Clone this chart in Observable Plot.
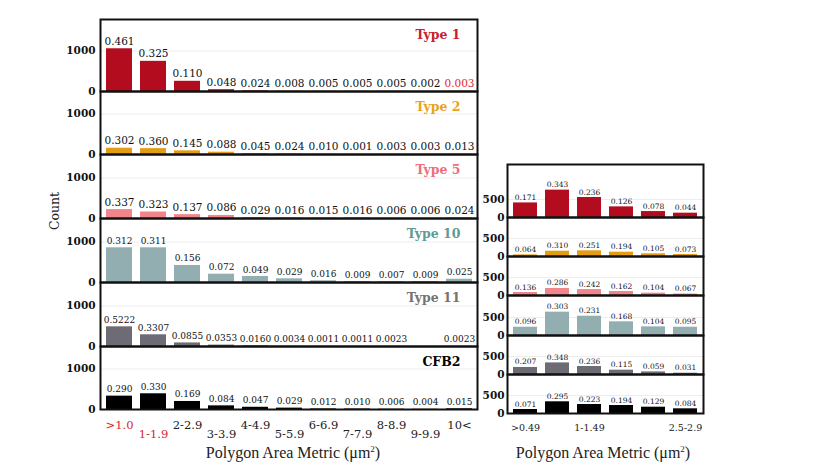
<!DOCTYPE html>
<html>
<head>
<meta charset="utf-8">
<script src="https://cdn.jsdelivr.net/npm/d3@7"></script>
<script src="https://cdn.jsdelivr.net/npm/@observablehq/plot@0.6"></script>
<style>
  body { margin: 0; background: #fff; }
  #root { position: relative; width: 830px; height: 467px; overflow: hidden; background: #fff;
          font-family: "DejaVu Serif", serif; }
  .pl { position: absolute; }
  .pl svg { display: block; max-width: none; background: transparent; overflow: visible; }
  .axtitle { position: absolute; font-family: "Liberation Serif", serif; font-size: 16px; color: #222;
             white-space: nowrap; transform: translate(-50%, -50%); }
  .count { position: absolute; font-family: "DejaVu Serif", serif; font-size: 12.5px;
           color: #222; white-space: nowrap; transform: translate(-50%, -50%) rotate(-90deg); }
</style>
</head>
<body>
<div id="root"></div>
<script>
// ---------- data ----------
const panelNames = ["Type 1", "Type 2", "Type 5", "Type 10", "Type 11", "CFB2"];
const barColors = ["#b20c1e", "#e29d12", "#f0868c", "#93aeb1", "#6d6c74", "#000000"];
const titleColors = ["#c8202c", "#e9a31c", "#ef6e79", "#5e9b95", "#737373", "#000000"];

const leftCats = [">1.0", "1-1.9", "2-2.9", "3-3.9", "4-4.9", "5-5.9", "6-6.9", "7-7.9", "8-8.9", "9-9.9", "10<"];
const rightCats = [">0.49", "0.5-0.99", "1-1.49", "1.5-1.99", "2-2.49", "2.5-2.9"];
const rightTickLabels = [">0.49", "1-1.49", "2.5-2.9"];
const leftTicks = [0, 1000];
const rightTicks = [0, 500];

// left panel counts and proportion labels
const leftType1 = [1055, 745, 252, 45, 15, 5, 3, 3, 3, 1, 2];
const leftType1Labels = ["0.461", "0.325", "0.110", "0.048", "0.024", "0.008", "0.005", "0.005", "0.005", "0.002", "0.003"];
const leftType2 = [155, 145, 90, 57, 20, 12, 5, 1, 2, 2, 6];
const leftType2Labels = ["0.302", "0.360", "0.145", "0.088", "0.045", "0.024", "0.010", "0.001", "0.003", "0.003", "0.013"];
const leftType5 = [220, 160, 95, 75, 20, 12, 10, 12, 4, 4, 16];
const leftType5Labels = ["0.337", "0.323", "0.137", "0.086", "0.029", "0.016", "0.015", "0.016", "0.006", "0.006", "0.024"];
const leftType10 = [857, 857, 420, 205, 148, 91, 43, 24, 19, 24, 81];
const leftType10Labels = ["0.312", "0.311", "0.156", "0.072", "0.049", "0.029", "0.016", "0.009", "0.007", "0.009", "0.025"];
const leftType11 = [486, 289, 88, 35, 16, 3, 1, 1, 2, 0, 2];
const leftType11Labels = ["0.5222", "0.3307", "0.0855", "0.0353", "0.0160", "0.0034", "0.0011", "0.0011", "0.0023", "", "0.0023"];
const leftCFB2 = [330, 388, 198, 90, 55, 34, 14, 12, 7, 5, 17];
const leftCFB2Labels = ["0.290", "0.330", "0.169", "0.084", "0.047", "0.029", "0.012", "0.010", "0.006", "0.004", "0.015"];

// right panel counts and proportion labels
const rightType1 = [405, 760, 555, 295, 165, 120];
const rightType1Labels = ["0.171", "0.343", "0.236", "0.126", "0.078", "0.044"];
const rightType2 = [45, 147, 158, 120, 75, 55];
const rightType2Labels = ["0.064", "0.310", "0.251", "0.194", "0.105", "0.073"];
const rightType5 = [83, 195, 165, 111, 65, 40];
const rightType5Labels = ["0.136", "0.286", "0.242", "0.162", "0.104", "0.067"];
const rightType10 = [230, 648, 536, 380, 240, 230];
const rightType10Labels = ["0.096", "0.303", "0.231", "0.168", "0.104", "0.095"];
const rightType11 = [195, 322, 222, 120, 72, 36];
const rightType11Labels = ["0.207", "0.348", "0.236", "0.115", "0.059", "0.031"];
const rightCFB2 = [111, 325, 250, 222, 175, 130];
const rightCFB2Labels = ["0.071", "0.295", "0.223", "0.194", "0.129", "0.084"];

const leftValues = [leftType1, leftType2, leftType5, leftType10, leftType11, leftCFB2];
const leftLabels = [leftType1Labels, leftType2Labels, leftType5Labels, leftType10Labels, leftType11Labels, leftCFB2Labels];
const rightValues = [rightType1, rightType2, rightType5, rightType10, rightType11, rightCFB2];
const rightLabels = [rightType1Labels, rightType2Labels, rightType5Labels, rightType10Labels, rightType11Labels, rightCFB2Labels];

// ---------- layout ----------
const FONT = '"DejaVu Serif", serif';
const root = document.getElementById("root");

const LEFT = {x0: 100, x1: 477, edges: [19, 91, 154, 218, 282, 346, 409], px1000: 40.5, ml: 40,
  pi: 0.25, po: 0.12, ticks: leftTicks, tickPad: 5, tickSize: 10.5, labelSizes: [10.5, 10.5, 10.5, 9, 9, 9], titles: true};
const RIGHT = {x0: 507, x1: 703, edges: [164, 217, 256, 295, 335, 374, 413], px1000: 36, ml: 36,
  pi: 0.26, po: 0.14, ticks: rightTicks, tickPad: 3, tickSize: 10.5, labelSizes: [7.5, 7.5, 7.5, 7.5, 7.5, 7.5], titles: false};

function place(el, left, top) {
  const d = document.createElement("div");
  d.className = "pl";
  d.style.left = left + "px";
  d.style.top = top + "px";
  d.appendChild(el);
  root.appendChild(d);
}

function drawPanel(side, i, cats, values, labels, isLeft) {
  const top = side.edges[i], bottom = side.edges[i + 1];
  const h = bottom - top;
  const last = i === 5;
  const mb = last ? 36 : 1;
  const data = cats.map((c, k) => ({cat: c, value: values[k], label: labels[k], k}));
  const marks = [
    Plot.ruleY(side.ticks.slice(1), {stroke: "#ededed", strokeWidth: 1}),
    Plot.axisY(side.ticks, {tickSize: 0, tickPadding: side.tickPad, fontSize: side.tickSize, fontWeight: "bold",
      fill: "#111", label: null, tickFormat: d => String(d)}),
    Plot.barY(data, {x: "cat", y: "value", fill: barColors[i]}),
    Plot.text(data, {x: "cat", y: "value", text: "label", lineAnchor: "bottom", dy: isLeft ? -4 : -3,
      fontSize: side.labelSizes[i],
      fill: d => (isLeft && i === 0 && d.k === 10) ? "#e0262e" : "#111"}),
    Plot.frame({stroke: "#111", strokeWidth: 2})
  ];
  if (side.titles) {
    marks.push(Plot.text([panelNames[i]], {text: d => d, frameAnchor: "top-right", textAnchor: "end",
      lineAnchor: "middle", dx: -17, dy: 15, fontSize: 12.5, fontWeight: "bold", fill: titleColors[i]}));
  }
  if (last && isLeft) {
    marks.push(Plot.text(data, {x: "cat", text: "cat", filter: d => d.k % 2 === 0, frameAnchor: "bottom",
      lineAnchor: "middle", dy: 16, fontSize: 11.5, fill: d => d.k < 2 ? "#d8262c" : "#222"}));
    marks.push(Plot.text(data, {x: "cat", text: "cat", filter: d => d.k % 2 === 1, frameAnchor: "bottom",
      lineAnchor: "middle", dy: 25, fontSize: 11.5, fill: d => d.k < 2 ? "#d8262c" : "#222"}));
  }
  if (last && !isLeft) {
    marks.push(Plot.text(data, {x: "cat", text: "cat", filter: d => rightTickLabels.includes(d.cat),
      frameAnchor: "bottom", lineAnchor: "middle", dy: 14, fontSize: 9.5, fill: "#222"}));
  }
  const plot = Plot.plot({
    width: side.ml + (side.x1 - side.x0) + 1,
    height: 1 + h + mb,
    marginLeft: side.ml, marginRight: 1, marginTop: 1, marginBottom: mb,
    style: {fontFamily: FONT, background: "transparent", overflow: "visible", color: "#111"},
    x: {domain: cats, paddingInner: side.pi, paddingOuter: side.po, axis: null},
    y: {domain: [0, h / side.px1000 * 1000], axis: null},
    marks
  });
  place(plot, side.x0 - side.ml, top - 1);
}

for (let i = 0; i < 6; i++) drawPanel(LEFT, i, leftCats, leftValues[i], leftLabels[i], true);
for (let i = 0; i < 6; i++) drawPanel(RIGHT, i, rightCats, rightValues[i], rightLabels[i], false);

// axis titles
function addText(cls, text, x, y) {
  const d = document.createElement("div");
  d.className = cls;
  d.innerHTML = text;
  d.style.left = x + "px";
  d.style.top = y + "px";
  root.appendChild(d);
}
addText("axtitle", "Polygon Area Metric (μm<sup style=\"font-size:9px\">2</sup>)", 293, 453);
addText("axtitle", "Polygon Area Metric (μm<sup style=\"font-size:9px\">2</sup>)", 603, 453);
addText("count", "Count", 54, 211);
</script>
</body>
</html>
